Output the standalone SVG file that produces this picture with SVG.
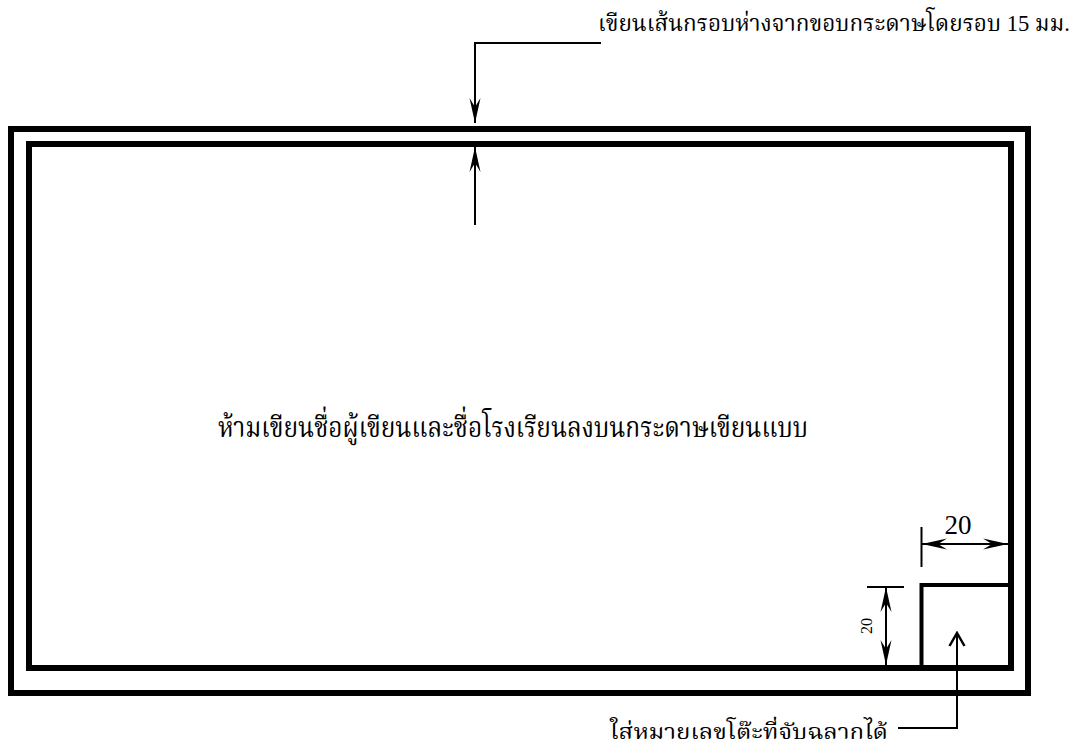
<svg xmlns="http://www.w3.org/2000/svg" width="1086" height="749" viewBox="0 0 1086 749">
<defs>
<style>
.frame{fill:none;stroke:#000;stroke-width:6}
.box{fill:none;stroke:#000;stroke-width:4}
.ln{fill:none;stroke:#000;stroke-width:2}
.th{font-family:"Liberation Serif","Noto Serif Thai","Noto Sans Thai","DejaVu Serif",serif;fill:#000}
.num{font-family:"Liberation Serif","Times New Roman",serif;fill:#000}
</style>
<marker id="st" viewBox="-26 -7 28 14" refX="0" refY="0" markerWidth="28" markerHeight="14" markerUnits="userSpaceOnUse" orient="auto-start-reverse">
<path d="M0,0 L-25,-5.5 L-16,0 L-25,5.5 Z" fill="#000"/>
</marker>
<marker id="op" viewBox="-16 -9 18 18" refX="0" refY="0" markerWidth="18" markerHeight="18" markerUnits="userSpaceOnUse" orient="auto">
<path d="M-13,-7.5 L0,0 L-13,7.5" fill="none" stroke="#000" stroke-width="2.5"/>
</marker>
</defs>
<rect width="1086" height="749" fill="#fff"/>
<g id="outer-frame"><rect class="frame" x="11" y="129" width="1017" height="564"/></g>
<g id="inner-frame"><rect class="frame" x="29" y="144" width="982" height="524"/></g>
<g id="label-box"><path class="box" d="M921.5,668 V585 H1011"/></g>
<g id="connectors">
<path class="ln" d="M601,43 H475 V123" marker-end="url(#st)"/>
<path class="ln" d="M475,225 V147" marker-end="url(#st)"/>
<line class="ln" x1="921.5" y1="527" x2="921.5" y2="567"/>
<line class="ln" x1="922" y1="544" x2="1008" y2="544" marker-start="url(#st)" marker-end="url(#st)"/>
<line class="ln" x1="867" y1="587" x2="904" y2="587"/>
<line class="ln" x1="886" y1="587" x2="886" y2="665" marker-start="url(#st)" marker-end="url(#st)"/>
<path class="ln" d="M898,728 H957 V633" marker-end="url(#op)"/>
</g>
<g id="top-label"><text class="th" x="598" y="31" font-size="23" textLength="472" lengthAdjust="spacingAndGlyphs">เขียนเส้นกรอบห่างจากขอบกระดาษโดยรอบ 15 มม.</text></g>
<g id="main-label"><text class="th" x="218" y="437" font-size="29" textLength="590" lengthAdjust="spacingAndGlyphs">ห้ามเขียนชื่อผู้เขียนและชื่อโรงเรียนลงบนกระดาษเขียนแบบ</text></g>
<g id="bottom-label"><text class="th" x="610" y="739" font-size="21" textLength="278" lengthAdjust="spacingAndGlyphs">ใส่หมายเลขโต๊ะที่จับฉลากได้</text></g>
<g id="dim-h"><text class="num" x="958" y="534" font-size="27" text-anchor="middle">20</text></g>
<g id="dim-v"><text class="num" x="872" y="626" font-size="16" text-anchor="middle" transform="rotate(-90 872 626)">20</text></g>
</svg>
